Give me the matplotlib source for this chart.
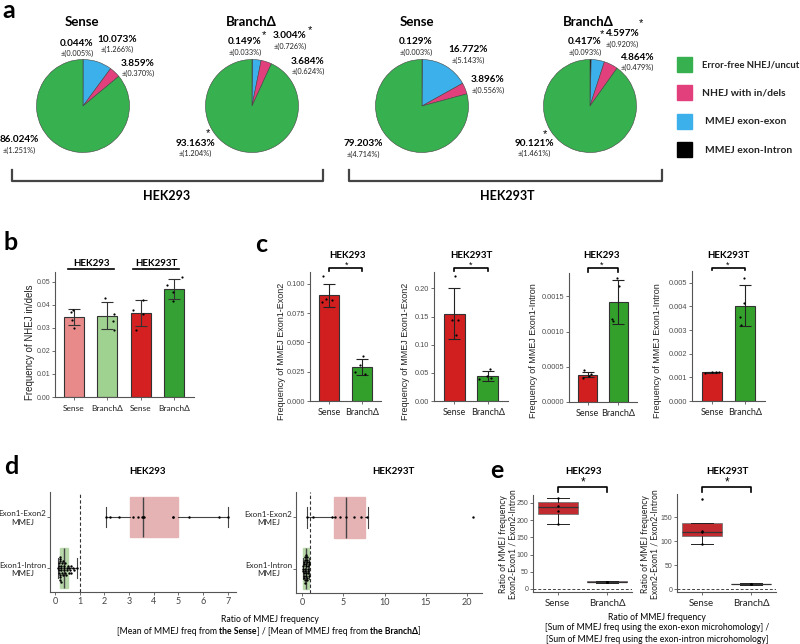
import matplotlib
matplotlib.use('Agg')
import matplotlib.pyplot as plt
from matplotlib.lines import Line2D
from matplotlib.patches import Rectangle
import numpy as np

plt.rcParams['font.family'] = ['Lato', 'DejaVu Sans']
NUM_FONT = ['Liberation Sans', 'DejaVu Sans']

###########################################
####   DATA   #############################
###########################################

# panel a: mean % and sd of each repair outcome
pie_titles = ['Sense', 'BranchΔ', 'Sense', 'BranchΔ']
cell_lines = ['HEK293', 'HEK293T']
pie_intron = [0.044, 0.149, 0.129, 0.417]
pie_exon = [10.073, 3.004, 16.772, 4.597]
pie_indel = [3.859, 3.684, 3.896, 4.864]
pie_free = [86.024, 93.163, 79.203, 90.121]
sd_intron = [0.005, 0.033, 0.003, 0.093]
sd_exon = [1.266, 0.726, 5.143, 0.920]
sd_indel = [0.370, 0.624, 0.556, 0.479]
sd_free = [1.251, 1.204, 4.714, 1.461]
legend_names = ['Error-free NHEJ/uncut', 'NHEJ with in/dels', 'MMEJ exon-exon', 'MMEJ exon-Intron']

# panel b: NHEJ in/del frequency
b_labels = ['Sense', 'BranchΔ', 'Sense', 'BranchΔ']
b_mean = [0.0348, 0.0354, 0.0365, 0.0470]
b_sd = [0.0035, 0.0058, 0.0057, 0.0043]
b_points = [[0.0370, 0.0378, 0.0334, 0.0298],
            [0.0428, 0.0330, 0.0359, 0.0291],
            [0.0380, 0.0291, 0.0359, 0.0420],
            [0.0486, 0.0457, 0.0418, 0.0522]]
b_jitter = [[-0.17, -0.05, -0.12, 0.0], [-0.11, 0.27, 0.35, 0.35],
            [-0.36, -0.25, 0.1, 0.11], [-0.33, -0.06, -0.06, 0.38]]

# panel c: MMEJ frequencies
c_groups = ['Sense', 'BranchΔ']
c_titles = ['HEK293', 'HEK293T', 'HEK293', 'HEK293T']
c_ylabels = ['Frequency of MMEJ Exon1-Exon2', 'Frequency of MMEJ Exon1-Exon2',
             'Frequency of MMEJ Exon1-Intron', 'Frequency of MMEJ Exon1-Intron']
c_mean = [[0.090, 0.029], [0.155, 0.044], [0.00039, 0.00142], [0.00121, 0.00404]]
c_sd = [[0.010, 0.0065], [0.045, 0.009], [0.00004, 0.00031], [0.00003, 0.00086]]
c_points = [[[0.107, 0.0848, 0.087, 0.0865], [0.0244, 0.0307, 0.0382, 0.0233]],
            [[0.222, 0.143, 0.143, 0.118], [0.039, 0.045, 0.057, 0.040]],
            [[0.00045, 0.00037, 0.00034, 0.00040], [0.00176, 0.00164, 0.00118, 0.00115]],
            [[0.00117, 0.00122, 0.00124, 0.00121], [0.00520, 0.00415, 0.00357, 0.00320]]]
c_jitter = [[[-0.31, -0.37, -0.16, 0.12], [-0.31, -0.09, 0.09, 0.19]],
            [[0.06, -0.11, 0.2, 0.09], [-0.4, -0.06, 0.09, 0.17]],
            [[-0.2, 0.1, -0.25, 0.2], [-0.1, 0.03, -0.32, -0.29]],
            [[-0.35, 0.0, 0.2, 0.35], [-0.06, -0.03, -0.27, -0.21]]]
c_ylim = [0.110, 0.229, 0.00183, 0.0055]
c_ticks = [[0, 0.025, 0.05, 0.075, 0.1], [0, 0.05, 0.1, 0.15, 0.2],
           [0, 0.0005, 0.001, 0.0015], [0, 0.001, 0.002, 0.003, 0.004, 0.005]]
c_fmt = ['%.3f', '%.2f', '%.4f', '%.3f']

# panel d: Sense / BranchΔ ratios per MMEJ event
d_titles = ['HEK293', 'HEK293T']
d_rows = ['Exon1-Exon2\nMMEJ', 'Exon1-Intron\nMMEJ']
d293_exon = [2.06, 2.23, 2.59, 3.16, 3.36, 3.52, 3.56, 3.60, 4.78, 4.78, 5.43, 6.64, 7.00]
d293_intron = [0.14, 0.15, 0.16, 0.17, 0.18, 0.19, 0.20, 0.20, 0.21, 0.21, 0.22, 0.23,
               0.24, 0.25, 0.26, 0.28, 0.30, 0.31, 0.33, 0.35, 0.36, 0.38, 0.40, 0.42,
               0.44, 0.47, 0.50, 0.52, 0.55, 0.58, 0.60, 0.63, 0.67, 0.72, 0.78, 0.90]
d293T_exon = [0.6, 1.3, 3.6, 4.0, 4.6, 5.3, 6.3, 7.2, 7.9, 20.7]
d293T_intron = [0.10, 0.12, 0.15, 0.18, 0.20, 0.22, 0.25, 0.27, 0.30, 0.32, 0.35, 0.37,
                0.40, 0.42, 0.44, 0.46, 0.48, 0.50, 0.52, 0.55, 0.58, 0.60, 0.62, 0.65,
                0.68, 0.70, 0.73, 0.76, 0.80, 0.85, 0.90]
# box stats: q1, median, q3, lower whisker, upper whisker
d293_exon_box = [3.04, 3.58, 4.97, 2.07, 7.00]
d293_intron_box = [0.20, 0.36, 0.53, 0.14, 0.90]
d293T_exon_box = [3.88, 5.30, 7.60, 0.60, 8.00]
d293T_intron_box = [0.10, 0.45, 0.85, 0.10, 0.90]

# panel e: exon-exon / exon-intron MMEJ ratio
e_titles = ['HEK293', 'HEK293T']
e293_sense_box = [218, 238, 253, 188, 264]
e293_branch_box = [19, 20, 22, 18, 23]
e293T_sense_box = [110, 119, 137, 94, 137]
e293T_branch_box = [10, 10.5, 11.5, 9.5, 12]
e293_sense_pts = [264, 240, 226, 189]
e293_branch_pts = [19.5, 20.5, 21, 20]
e293T_sense_pts = [188, 121, 118, 94]
e293T_branch_pts = [10.5, 11, 11.5, 10]

###########################################
####   HELPERS   ##########################
###########################################

W, H = 800, 644
fig = plt.figure(figsize=(8, 6.44), dpi=100)


def px_axes(l, t, r, b):
    return fig.add_axes([l / W, 1 - b / H, (r - l) / W, (b - t) / H])


def ftext(x, y, s, size=7, weight='normal', ha='center', va='center', **kw):
    return fig.text(x / W, 1 - y / H, s, fontsize=size, fontweight=weight,
                    ha=ha, va=va, **kw)


def fline(xs, ys, lw=1.0, color='black'):
    fig.add_artist(Line2D([x / W for x in xs], [1 - y / H for y in ys],
                          lw=lw, color=color))


def style_axes(ax):
    for s in ['top', 'right']:
        ax.spines[s].set_visible(False)
    for s in ['left', 'bottom']:
        ax.spines[s].set_color('#555555')
        ax.spines[s].set_linewidth(0.8)
    ax.tick_params(length=2, width=0.6, color='#555555', pad=1.5)


def swarm(vals, xscale, size=2.3):
    # simple beeswarm: offsets in pixels along category direction
    placed = []
    offs = np.zeros(len(vals))
    for i in np.argsort(vals):
        x = vals[i] * xscale
        k = 0
        while True:
            cand = ((k + 1) // 2) * (1 if k % 2 else -1) * size
            if all((x - px) ** 2 + (cand - py) ** 2 >= size ** 2 for px, py in placed):
                break
            k += 1
        placed.append((x, cand))
        offs[i] = cand
    return offs


def rich(xc, y, parts, size):
    # centered line of text with some bold pieces; parts = (text, bold, space_after)
    r = fig.canvas.get_renderer()
    t1 = ftext(0, 300, 'a a', size)
    t2 = ftext(0, 300, 'aa', size)
    sp = t1.get_window_extent(r).width - t2.get_window_extent(r).width
    t1.remove()
    t2.remove()
    items = []
    for s, bold, gap in parts:
        t = ftext(0, y, s, size, 'bold' if bold else 'normal', ha='left')
        items.append((t, t.get_window_extent(r).width + (sp if gap else 0)))
    x = xc - sum(w for _, w in items) / 2
    for t, w in items:
        t.set_x(x / W)
        x += w


###########################################
####   PANEL A   ##########################
###########################################

pie_colors = ['black', '#3cb0ea', '#e2407c', '#37b04f']
pie_centers = [(83, 106), (252, 106), (422, 106), (590, 106)]
R = 46.5
title_pos = [(82, 22), (251, 22), (417, 22), (588, 22)]
label_pos = [[(77, 43), (117, 39), (138, 63), (19, 140)],
             [(245, 42), (290, 36), (308, 61), (195, 143)],
             [(416, 42), (468, 50), (488, 80), (363, 144)],
             [(585, 42), (622, 34), (637, 57), (534, 143)]]
star_pos = [[], [(264, 35), (310, 30), (208, 133)], [],
            [(602, 34), (641, 23), (545, 134)]]

for i in range(4):
    cx, cy = pie_centers[i]
    ax = px_axes(cx - R, cy - R, cx + R, cy + R)
    vals = [pie_intron[i], pie_exon[i], pie_indel[i], pie_free[i]]
    sds = [sd_intron[i], sd_exon[i], sd_indel[i], sd_free[i]]
    ax.pie(vals, colors=pie_colors, startangle=90, counterclock=False,
           wedgeprops=dict(edgecolor='#444444', linewidth=0.4))
    ax.set_xlim(-1, 1)
    ax.set_ylim(-1, 1)
    ftext(*title_pos[i], pie_titles[i], size=9.5, weight='bold')
    for j in range(4):
        lx, ly = label_pos[i][j]
        ftext(lx, ly, '%.3f%%' % vals[j], size=7.2, weight='bold')
        ftext(lx, ly + 10, '±(%.3f%%)' % sds[j], size=5.3, color='#222222')
    for sx, sy in star_pos[i]:
        ftext(sx, sy, '*', size=8, family=NUM_FONT)

legend_colors = ['#37b04f', '#e2407c', '#3cb0ea', 'black']
for k in range(4):
    y0 = 57 + k * 28.4
    fig.add_artist(Rectangle((677 / W, 1 - (y0 + 15) / H), 15 / W, 15 / H,
                             transform=fig.transFigure, color=legend_colors[k]))
    ftext(702 if k < 2 else 705, y0 + 8, legend_names[k], size=6.8 if k == 0 else 7.4,
          weight='bold', ha='left', color='#222222')

fline([12, 12, 323, 323], [170, 181, 181, 170], lw=1.6, color='#444444')
fline([349, 349, 662, 662], [170, 181, 181, 170], lw=1.6, color='#444444')
ftext(167, 196, cell_lines[0], size=9, weight='bold')
ftext(507, 196, cell_lines[1], size=9, weight='bold')

###########################################
####   PANEL B   ##########################
###########################################

ax = px_axes(55, 272, 194, 397)
style_axes(ax)
b_colors = ['#e8898a', '#9fd190', '#d42020', '#35a033']
xs = np.arange(4)
ax.bar(xs, b_mean, width=0.6, color=b_colors, edgecolor='#333333', lw=0.8)
ax.errorbar(xs, b_mean, yerr=b_sd, fmt='none', ecolor='#333333', elinewidth=0.8,
            capsize=4.5, capthick=0.8)
for i in range(4):
    ax.scatter(xs[i] + np.array(b_jitter[i]) * 0.6, b_points[i], s=2.5, color='black',
               zorder=5, lw=0)
ax.set_xlim(-0.57, 3.6)
ax.set_ylim(0, 0.0543)
yt = [0, 0.01, 0.02, 0.03, 0.04, 0.05]
ax.set_yticks(yt, ['%.2f' % v for v in yt], fontsize=5, color='#4d4d4d', family=NUM_FONT)
ax.set_xticks(xs, b_labels, fontsize=6, color='#222222')
ax.tick_params(axis='x', pad=3.5)
ftext(30, 342, 'Frequency of NHEJ in/dels', size=7, rotation=90, family=NUM_FONT,
      color='#222222')
ftext(91, 263, cell_lines[0], size=7, weight='bold')
ftext(156, 263, cell_lines[1], size=7, weight='bold')
fline([68, 114], [269, 269], lw=1.2)
fline([133, 179], [269, 269], lw=1.2)

###########################################
####   PANEL C   ##########################
###########################################

c_boxes = [(310, 272, 381, 401), (434, 272, 508, 401), (569, 273, 637, 402),
           (692, 271, 765, 401)]
c_ylab_x = [282, 405, 533, 658]
c_title_x = [347, 471, 602, 728]
for i in range(4):
    l, t, r, b = c_boxes[i]
    ax = px_axes(l, t, r, b)
    style_axes(ax)
    ax.bar([0, 1], c_mean[i], width=0.62, color=['#d11f1f', '#33a02c'],
           edgecolor='#333333', lw=0.8)
    ax.errorbar([0, 1], c_mean[i], yerr=c_sd[i], fmt='none', ecolor='#222222',
                elinewidth=0.8, capsize=4.5, capthick=0.8)
    for g in range(2):
        ax.scatter(g + np.array(c_jitter[i][g]) * 0.62, c_points[i][g], s=2.5,
                   color='black', zorder=5, lw=0)
    ax.set_xlim(-0.6, 1.6)
    ax.set_ylim(0, c_ylim[i])
    ax.set_yticks(c_ticks[i], [c_fmt[i] % v for v in c_ticks[i]], fontsize=5.3,
                  color='#4d4d4d', family=NUM_FONT)
    ax.set_xticks([0, 1], c_groups, fontsize=6.5, color='#222222')
    ax.tick_params(axis='x', pad=3)
    # significance bracket and title
    trans = ax.get_xaxis_transform()
    yb = (b - 268) / (b - t)
    ax.plot([0, 0, 1, 1], [1.0 + 0.3 * (yb - 1), yb, yb, 1.0 + 0.3 * (yb - 1)],
            transform=trans, clip_on=False, color='black', lw=1.2)
    ftext(c_title_x[i], 265, '*', size=6.5, family=NUM_FONT)
    ftext(c_title_x[i], 256, c_titles[i], size=7, weight='bold')
    ftext(c_ylab_x[i], 351, c_ylabels[i], size=6.5, rotation=90, family=NUM_FONT,
          color='#222222')

###########################################
####   PANEL D   ##########################
###########################################

d_boxes = [(50, 492, 236, 592), (296, 492, 482, 593)]
d_xlim = [(-0.2, 7.33), (-0.73, 21.8)]
d_xticks = [list(range(8)), [0, 5, 10, 15, 20]]
d_data = [(d293_exon, d293_intron), (d293T_exon, d293T_intron)]
d_stats = [(d293_exon_box, d293_intron_box), (d293T_exon_box, d293T_intron_box)]
d_colors = ['#e6b3b4', '#b8d8aa']
for i in range(2):
    l, t, r, b = d_boxes[i]
    ax = px_axes(l, t, r, b)
    style_axes(ax)
    stats = []
    for s in d_stats[i]:
        stats.append(dict(q1=s[0], med=s[1], q3=s[2], whislo=s[3], whishi=s[4], fliers=[]))
    bp = ax.bxp(stats, positions=[0, 1], widths=0.8, orientation='horizontal',
                patch_artist=True, showfliers=False,
                medianprops=dict(color='#444444', lw=1.0),
                whiskerprops=dict(color='#444444', lw=0.8),
                capprops=dict(color='#444444', lw=0.8), capwidths=0.4)
    for patch, col in zip(bp['boxes'], d_colors):
        patch.set_facecolor(col)
        patch.set_edgecolor(col)
    xscale = (r - l) / (d_xlim[i][1] - d_xlim[i][0])
    yscale = (b - t) / 1.96
    for row in range(2):
        vals = np.array(d_data[i][row])
        if row == 0:
            offs = np.zeros(len(vals))
        else:
            offs = swarm(vals, xscale) / yscale
        ax.scatter(vals, row + offs, s=3, color='black', zorder=5, lw=0)
    ax.axvline(1, color='#333333', lw=0.8, ls=(0, (3, 2)))
    ax.set_xlim(*d_xlim[i])
    ax.set_ylim(1.47, -0.49)
    ax.set_xticks(d_xticks[i], [str(v) for v in d_xticks[i]], fontsize=6.5,
                  color='#444444')
    ax.set_yticks([0, 1], d_rows, fontsize=5.8, color='#222222', multialignment='center')
    ax.tick_params(axis='y', pad=0.8)
    ftext((l + r) / 2 + 4, 472, d_titles[i], size=7, weight='bold')

ftext(270, 620, 'Ratio of MMEJ frequency', size=6.2)
rich(269, 631, [('[Mean of MMEJ freq from', False, True), ('the Sense', True, False),
                ('] / [Mean of MMEJ freq from', False, True), ('the BranchΔ', True, False),
                (']', False, False)], 6.2)

###########################################
####   PANEL E   ##########################
###########################################

e_boxes = [(533, 495, 632, 592), (677, 494, 776, 592)]
e_ylim = [(-9, 273), (-6, 198)]
e_yticks = [[0, 50, 100, 150, 200, 250], [0, 50, 100, 150]]
e_stats = [(e293_sense_box, e293_branch_box), (e293T_sense_box, e293T_branch_box)]
e_pts = [(e293_sense_pts, e293_branch_pts), (e293T_sense_pts, e293T_branch_pts)]
e_ylab_x = [508.5, 650.5]
for i in range(2):
    l, t, r, b = e_boxes[i]
    ax = px_axes(l, t, r, b)
    style_axes(ax)
    stats = []
    for s in e_stats[i]:
        stats.append(dict(q1=s[0], med=s[1], q3=s[2], whislo=s[3], whishi=s[4], fliers=[]))
    bp = ax.bxp(stats, positions=[0, 1], widths=0.8, patch_artist=True,
                showfliers=False,
                medianprops=dict(color='#333333', lw=0.9),
                whiskerprops=dict(color='#222222', lw=0.7),
                capprops=dict(color='#222222', lw=0.7), capwidths=0.45)
    for patch in bp['boxes']:
        patch.set_facecolor('#c12a2e')
        patch.set_edgecolor('#777777')
        patch.set_linewidth(0.6)
    for g in range(2):
        ax.scatter(np.zeros(len(e_pts[i][g])) + g, e_pts[i][g], s=3, color='black',
                   zorder=5, lw=0)
    ax.axhline(0, color='#444444', lw=0.7, ls=(0, (3, 2)))
    ax.set_xlim(-0.5, 1.5)
    ax.set_ylim(*e_ylim[i])
    ax.set_yticks(e_yticks[i], [str(v) for v in e_yticks[i]], fontsize=5,
                  color='#4d4d4d', family=NUM_FONT)
    ax.set_xticks([0, 1], c_groups, fontsize=7, color='#222222')
    ax.tick_params(axis='x', pad=3)
    trans = ax.get_xaxis_transform()
    yb = (b - 487) / (b - t)
    ax.plot([0, 0, 1, 1], [yb - 0.05, yb, yb, yb - 0.05], transform=trans,
            clip_on=False, color='black', lw=1.2)
    cx = l + 25 + 25
    ftext(cx, 482, '*', size=8.5, family=NUM_FONT)
    ftext(cx, 472, e_titles[i], size=7, weight='bold')
    ftext(e_ylab_x[i], 544, 'Ratio of MMEJ frequency\nExon2-Exon1 / Exon2-Intron',
          size=6.2, rotation=90, linespacing=1.1, color='#222222')

ftext(657, 617, 'Ratio of MMEJ frequency', size=6.2)
ftext(657, 628, '[Sum of MMEJ freq using the exon-exon microhomology] /', size=6.2)
ftext(657, 639, '[Sum of MMEJ freq using the exon-intron microhomology]', size=6.2)

# panel letters
for letter, (x, y) in zip('abcde', [(9, 11), (11, 243), (261, 245), (11, 467), (497, 471)]):
    ftext(x, y, letter, size=18, weight='bold')

fig.savefig('out.png', dpi=100)
